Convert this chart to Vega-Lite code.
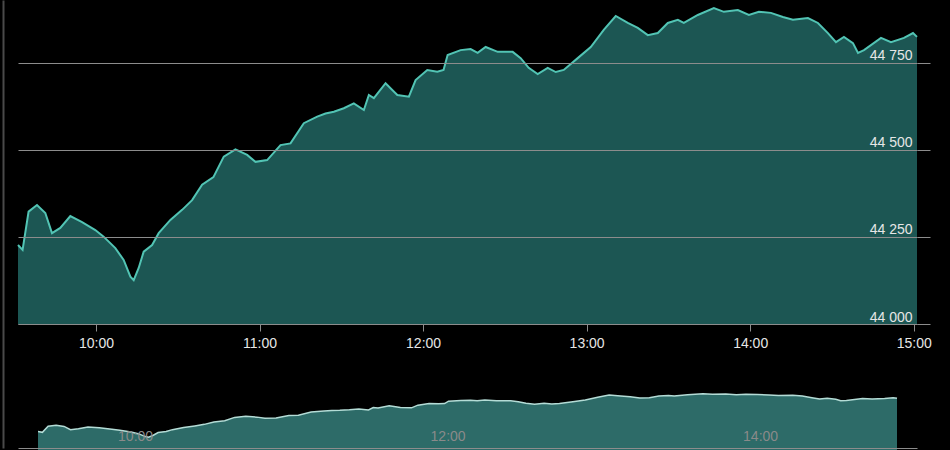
{
  "$schema": "https://vega.github.io/schema/vega-lite/v6.json",
  "autosize": {"type": "none"},
  "padding": {"left": 18, "top": 0, "right": 33, "bottom": 2},
  "background": "#000000",
  "width": 899,
  "height": 448,
  "config": {"view": {"stroke": null}, "font": "Liberation Sans"},
  "data": {"values": [
      {"t": "2024-01-02T09:31:22", "v": 44227},
      {"t": "2024-01-02T09:33:03", "v": 44213},
      {"t": "2024-01-02T09:35:15", "v": 44323},
      {"t": "2024-01-02T09:38:20", "v": 44342},
      {"t": "2024-01-02T09:41:23", "v": 44319},
      {"t": "2024-01-02T09:43:50", "v": 44261},
      {"t": "2024-01-02T09:46:53", "v": 44276},
      {"t": "2024-01-02T09:50:34", "v": 44310},
      {"t": "2024-01-02T09:54:52", "v": 44293},
      {"t": "2024-01-02T09:59:44", "v": 44270},
      {"t": "2024-01-02T10:02:47", "v": 44251},
      {"t": "2024-01-02T10:07:05", "v": 44218},
      {"t": "2024-01-02T10:10:08", "v": 44184},
      {"t": "2024-01-02T10:12:36", "v": 44136},
      {"t": "2024-01-02T10:13:49", "v": 44126},
      {"t": "2024-01-02T10:15:39", "v": 44161},
      {"t": "2024-01-02T10:17:29", "v": 44208},
      {"t": "2024-01-02T10:20:34", "v": 44227},
      {"t": "2024-01-02T10:22:59", "v": 44261},
      {"t": "2024-01-02T10:27:17", "v": 44299},
      {"t": "2024-01-02T10:31:35", "v": 44328},
      {"t": "2024-01-02T10:35:15", "v": 44356},
      {"t": "2024-01-02T10:38:55", "v": 44400},
      {"t": "2024-01-02T10:43:04", "v": 44422},
      {"t": "2024-01-02T10:46:52", "v": 44481},
      {"t": "2024-01-02T10:51:09", "v": 44502},
      {"t": "2024-01-02T10:55:27", "v": 44486},
      {"t": "2024-01-02T10:58:30", "v": 44466},
      {"t": "2024-01-02T11:02:47", "v": 44471},
      {"t": "2024-01-02T11:07:41", "v": 44514},
      {"t": "2024-01-02T11:11:21", "v": 44519},
      {"t": "2024-01-02T11:16:14", "v": 44577},
      {"t": "2024-01-02T11:21:09", "v": 44596},
      {"t": "2024-01-02T11:24:12", "v": 44605},
      {"t": "2024-01-02T11:27:15", "v": 44610},
      {"t": "2024-01-02T11:30:55", "v": 44620},
      {"t": "2024-01-02T11:34:35", "v": 44634},
      {"t": "2024-01-02T11:38:16", "v": 44615},
      {"t": "2024-01-02T11:40:06", "v": 44658},
      {"t": "2024-01-02T11:41:56", "v": 44649},
      {"t": "2024-01-02T11:46:14", "v": 44692},
      {"t": "2024-01-02T11:50:32", "v": 44658},
      {"t": "2024-01-02T11:54:47", "v": 44653},
      {"t": "2024-01-02T11:57:15", "v": 44701},
      {"t": "2024-01-02T12:01:32", "v": 44730},
      {"t": "2024-01-02T12:05:13", "v": 44725},
      {"t": "2024-01-02T12:07:30", "v": 44730},
      {"t": "2024-01-02T12:09:00", "v": 44773},
      {"t": "2024-01-02T12:13:46", "v": 44787},
      {"t": "2024-01-02T12:17:26", "v": 44790},
      {"t": "2024-01-02T12:20:01", "v": 44779},
      {"t": "2024-01-02T12:22:57", "v": 44796},
      {"t": "2024-01-02T12:27:22", "v": 44782},
      {"t": "2024-01-02T12:32:52", "v": 44782},
      {"t": "2024-01-02T12:35:48", "v": 44764},
      {"t": "2024-01-02T12:38:44", "v": 44736},
      {"t": "2024-01-02T12:42:03", "v": 44718},
      {"t": "2024-01-02T12:45:43", "v": 44736},
      {"t": "2024-01-02T12:48:40", "v": 44724},
      {"t": "2024-01-02T12:51:36", "v": 44730},
      {"t": "2024-01-02T12:56:44", "v": 44764},
      {"t": "2024-01-02T13:01:31", "v": 44796},
      {"t": "2024-01-02T13:06:17", "v": 44845},
      {"t": "2024-01-02T13:10:41", "v": 44885},
      {"t": "2024-01-02T13:15:06", "v": 44865},
      {"t": "2024-01-02T13:18:46", "v": 44851},
      {"t": "2024-01-02T13:22:27", "v": 44830},
      {"t": "2024-01-02T13:26:07", "v": 44836},
      {"t": "2024-01-02T13:29:47", "v": 44865},
      {"t": "2024-01-02T13:33:28", "v": 44874},
      {"t": "2024-01-02T13:35:40", "v": 44865},
      {"t": "2024-01-02T13:40:48", "v": 44888},
      {"t": "2024-01-02T13:46:41", "v": 44908},
      {"t": "2024-01-02T13:50:21", "v": 44897},
      {"t": "2024-01-02T13:55:29", "v": 44902},
      {"t": "2024-01-02T13:59:32", "v": 44888},
      {"t": "2024-01-02T14:03:12", "v": 44897},
      {"t": "2024-01-02T14:07:37", "v": 44894},
      {"t": "2024-01-02T14:12:01", "v": 44882},
      {"t": "2024-01-02T14:15:41", "v": 44874},
      {"t": "2024-01-02T14:21:12", "v": 44879},
      {"t": "2024-01-02T14:24:52", "v": 44865},
      {"t": "2024-01-02T14:28:32", "v": 44836},
      {"t": "2024-01-02T14:31:29", "v": 44810},
      {"t": "2024-01-02T14:34:25", "v": 44825},
      {"t": "2024-01-02T14:37:43", "v": 44807},
      {"t": "2024-01-02T14:39:34", "v": 44779},
      {"t": "2024-01-02T14:41:46", "v": 44787},
      {"t": "2024-01-02T14:48:00", "v": 44822},
      {"t": "2024-01-02T14:51:40", "v": 44810},
      {"t": "2024-01-02T14:56:27", "v": 44822},
      {"t": "2024-01-02T14:59:45", "v": 44836},
      {"t": "2024-01-02T15:01:13", "v": 44825}
  ]},
  "layer": [
    {
      "encoding": {
        "x": {
          "field": "t",
          "type": "temporal",
          "axis": {
            "orient": "bottom",
            "offset": -124,
            "format": "%H:%M",
            "tickCount": 6,
            "grid": false,
            "domainColor": "#8c8c8c",
            "tickColor": "#8c8c8c",
            "tickSize": 7,
            "labelColor": "#e6e6e6",
            "labelFontSize": 14,
            "labelPadding": 5,
            "labelFlush": false,
            "zindex": 1,
            "title": null
          }
        },
        "y": {
          "field": "v",
          "type": "quantitative",
          "scale": {"domain": [43643.7, 44931], "nice": false, "zero": false},
          "axis": {
            "orient": "right",
            "values": [44000, 44250, 44500, 44750],
            "grid": true,
            "gridColor": "#8c8c8c",
            "domain": false,
            "tickSize": 13,
            "tickColor": "#8c8c8c",
            "labelAlign": "right",
            "labelPadding": -18,
            "labelBaseline": "bottom",
            "labelColor": "#e6e6e6",
            "labelFontSize": 14,
            "labelExpr": "replace(format(datum.value, ','), ',', ' ')",
            "zindex": 1,
            "title": null
          }
        }
      },
      "layer": [
        {
          "mark": {"type": "area", "color": "#1c5653"},
          "encoding": {"y2": {"datum": 44000}}
        },
        {
          "mark": {"type": "line", "color": "#52c4b4", "strokeWidth": 2},
          "encoding": {}
        }
      ]
    },
    {
      "encoding": {
        "x": {
          "field": "t",
          "type": "temporal",
          "scale": {"padding": 20},
          "axis": {
            "orient": "bottom",
            "tickCount": 6,
            "grid": false,
            "ticks": false,
            "domainColor": "#8c8c8c",
            "labelExpr": "hours(datum.value) % 2 == 0 ? timeFormat(datum.value, '%H:%M') : ''",
            "labelAlign": "left",
            "labelOffset": 5,
            "labelPadding": -5,
            "labelBaseline": "bottom",
            "labelColor": "#8a8a8a",
            "labelFontSize": 14,
            "labelFlush": false,
            "zindex": 1,
            "title": null
          }
        },
        "y": {
          "field": "v",
          "type": "quantitative",
          "scale": {"domain": [43931, 51986], "nice": false, "zero": false},
          "axis": {
            "orient": "left",
            "offset": 15,
            "labels": false,
            "ticks": false,
            "grid": false,
            "domainColor": "#4a4a4a",
            "domainWidth": 2,
            "title": null
          }
        }
      },
      "layer": [
        {
          "mark": {"type": "area", "color": "#2d6b68"},
          "encoding": {}
        },
        {
          "mark": {"type": "line", "color": "#b4dcd6", "strokeWidth": 1.5},
          "encoding": {}
        }
      ]
    }
  ],
  "resolve": {"scale": {"x": "independent", "y": "independent"}}
}
